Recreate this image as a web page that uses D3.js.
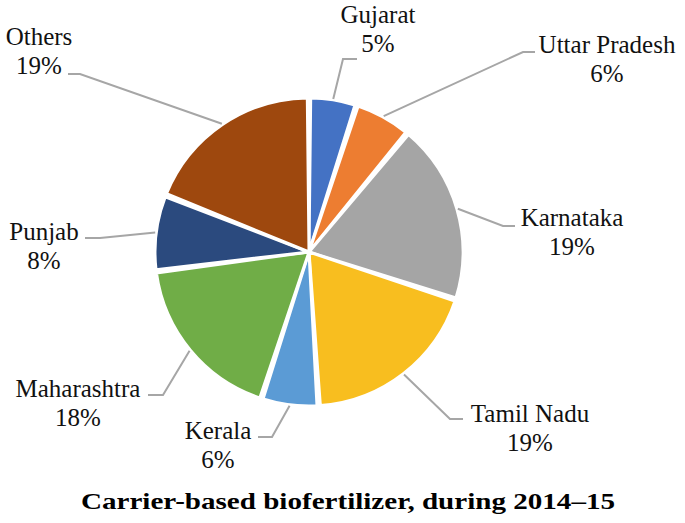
<!DOCTYPE html>
<html><head><meta charset="utf-8">
<script src="https://cdn.jsdelivr.net/npm/d3@7"></script>
<style>html,body{margin:0;padding:0;background:#fff;}</style>
</head><body>
<svg id="c" width="685" height="523"></svg>
<script>
const categories = ["Gujarat","Uttar Pradesh","Karnataka","Tamil Nadu","Kerala","Maharashtra","Punjab","Others"];
const values = [5, 6, 19, 19, 6, 18, 8, 19];
const colors = ["#4472C4","#ED7D31","#A5A5A5","#F8BE1F","#5B9BD5","#70AD47","#2B4A7E","#9E480E"];
const title = "Carrier-based biofertilizer, during 2014\u201315";
// label layout: label centre x, first baseline y, elbow point, end of horizontal
const labelLayout = [
  {lx:378, ly:23,  ex:343, ey:59,  hx:357},
  {lx:607, ly:53,  ex:523, ey:52,  hx:535},
  {lx:572, ly:226, ex:503, ey:226, hx:515},
  {lx:530, ly:422, ex:450, ey:419, hx:463},
  {lx:218, ly:439, ex:272, ey:437, hx:258},
  {lx:78,  ly:397, ex:163, ey:395, hx:148},
  {lx:44,  ly:240, ex:100, ey:238, hx:85},
  {lx:39,  ly:45,  ex:80,  ey:74,  hx:68}
];
const FONT = '"Liberation Serif"';
const cx = 309, cy = 252, R = 154;

const svg = d3.select("#c");
const data = categories.map((c,i)=>({name:c, value:values[i], color:colors[i], lay:labelLayout[i]}));
const pie = d3.pie().value(d=>d.value).sort(null);
const arcs = pie(data);
const arc = d3.arc().innerRadius(0).outerRadius(R).padAngle(0.022).padRadius(R);
const g = svg.append("g").attr("transform",`translate(${cx},${cy})`);
g.selectAll("path").data(arcs).join("path").attr("d",arc).attr("fill",d=>d.data.color)
  .attr("stroke","#fff").attr("stroke-width",3).attr("stroke-linejoin","round");

arcs.forEach(a=>{
  const m = (a.startAngle+a.endAngle)/2;
  const r0 = R+1;
  const sx = cx + r0*Math.sin(m), sy = cy - r0*Math.cos(m);
  const L = a.data.lay;
  svg.append("path").attr("d",`M${sx},${sy}L${L.ex},${L.ey}L${L.hx},${L.ey}`)
    .attr("fill","none").attr("stroke","#A6A6A6").attr("stroke-width",2);
});
function label(x, y, s){
  svg.append("text").attr("x",x).attr("y",y).attr("font-size",25).attr("fill","#111")
    .attr("text-anchor","middle").style("font-family",FONT).style("white-space","pre")
    .text(s.includes(" ") ? s : " " + s + " ");
}
arcs.forEach(a=>{
  const L = a.data.lay;
  label(L.lx, L.ly, a.data.name);
  label(L.lx, L.ly + 29, a.data.value + "%");
});
svg.append("text").attr("x",81).attr("y",509).attr("text-anchor","start")
  .attr("font-weight","bold").style("font-family",FONT)
  .attr("font-size",24).attr("fill","#000")
  .attr("textLength",534).attr("lengthAdjust","spacingAndGlyphs").text(title);
</script>
</body></html>
